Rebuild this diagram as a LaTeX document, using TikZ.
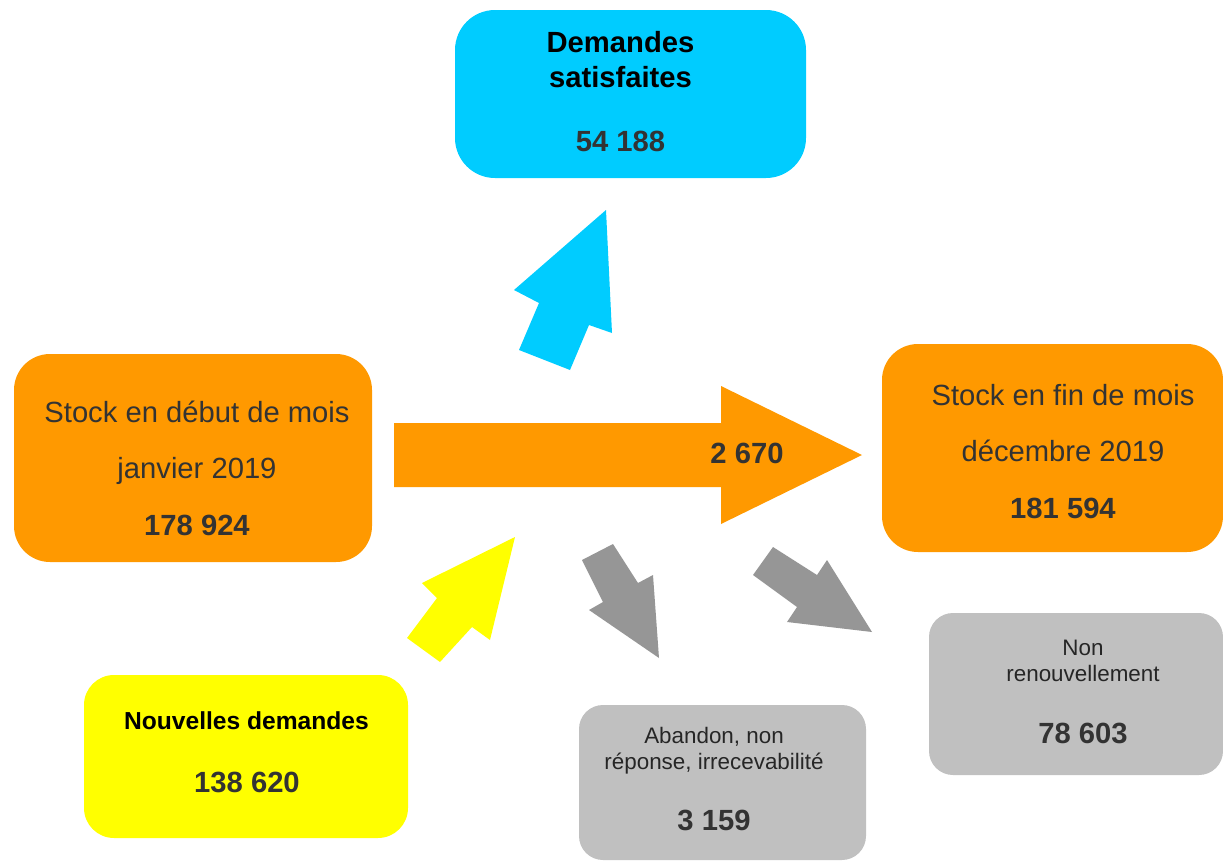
\documentclass[tikz,border=0pt]{standalone}
\usepackage{fontspec}
\setmainfont{Liberation Sans}

\definecolor{orangestock}{HTML}{FF9900}
\definecolor{bleusatis}{HTML}{00CCFF}
\definecolor{jaunenouv}{HTML}{FFFF00}
\definecolor{grisboite}{HTML}{C0C0C0}
\definecolor{grisfleche}{HTML}{969696}
\definecolor{gristexte}{HTML}{333333}

\newcommand{\grand}{\fontsize{14.6}{17}\selectfont}
\newcommand{\petit}{\fontsize{11.2}{13}\selectfont}

\tikzset{
  boite/.style={inner sep=0pt, draw=none},
  ligne/.style={anchor=base, inner sep=0pt, text=gristexte, font=\grand},
  lignepetite/.style={anchor=base, inner sep=0pt, text=black!85, font=\petit},
  chiffre/.style={anchor=base, inner sep=0pt, text=gristexte, font=\grand\bfseries},
}

\begin{document}
\begin{tikzpicture}[x=0.5pt, y=-0.5pt]
  \useasboundingbox (0,0) rectangle (1223,863);

  % boîtes
  \node[boite, fill=bleusatis, rounded corners=20pt, minimum width=175.5pt, minimum height=84pt] (satis) at (630.5,94) {};
  \node[boite, fill=orangestock, rounded corners=18pt, minimum width=179pt, minimum height=104pt] (debut) at (193,458) {};
  \node[boite, fill=orangestock, rounded corners=18pt, minimum width=170.5pt, minimum height=104pt] (fin) at (1052.5,448) {};
  \node[boite, fill=jaunenouv, rounded corners=15pt, minimum width=162pt, minimum height=81.5pt] (nouv) at (246,756.5) {};
  \node[boite, fill=grisboite, rounded corners=12pt, minimum width=143.5pt, minimum height=77.5pt] (aband) at (722.5,782.5) {};
  \node[boite, fill=grisboite, rounded corners=12pt, minimum width=147pt, minimum height=81pt] (nonren) at (1076,694) {};

  % flèches
  \fill[orangestock] (394,423) -- (721,423) -- (721,386) -- (862,455) -- (721,524) -- (721,487) -- (394,487) -- cycle;
  \fill[bleusatis] (606,210) -- (612,333) -- (589,325) -- (570,370) -- (519,350) -- (539,303) -- (514,290) -- cycle;
  \fill[jaunenouv] (515,537) -- (490,640) -- (472,627) -- (440,662) -- (407,638) -- (437,598) -- (422,583) -- cycle;
  \fill[grisfleche] (582,560) -- (613,544) -- (638,583) -- (653,575) -- (659,658) -- (589,610) -- (603,602) -- cycle;
  \fill[grisfleche] (753,575) -- (773,547) -- (817,575) -- (827,560) -- (872,632) -- (787,622) -- (797,607) -- cycle;

  % textes
  \node[ligne, text=black, font=\grand\bfseries] (satis-l1) at (620.5,52) {Demandes};
  \node[ligne, text=black, font=\grand\bfseries] (satis-l2) at (620.5,87) {satisfaites};
  \node[chiffre] (satis-n) at (620.5,151) {54 188};

  \node[ligne] (debut-l1) at (197,422) {Stock en début de mois};
  \node[ligne] (debut-l2) at (197,478) {janvier 2019};
  \node[chiffre] (debut-n) at (197,535) {178 924};

  \node[ligne] (fin-l1) at (1063,405) {Stock en fin de mois};
  \node[ligne] (fin-l2) at (1063,461) {décembre 2019};
  \node[chiffre] (fin-n) at (1063,518) {181 594};

  \node[chiffre] (solde) at (747,463) {2 670};

  \node[ligne, text=black, font=\fontsize{12.3}{14}\selectfont\bfseries] (nouv-l1) at (246.5,729) {Nouvelles demandes};
  \node[chiffre] (nouv-n) at (247,792) {138 620};

  \node[lignepetite] (aband-l1) at (714,743) {Abandon, non};
  \node[lignepetite] (aband-l2) at (714,769) {réponse, irrecevabilité};
  \node[chiffre] (aband-n) at (714,830) {3 159};

  \node[lignepetite] (nonren-l1) at (1083,655) {Non};
  \node[lignepetite] (nonren-l2) at (1083,681) {renouvellement};
  \node[chiffre] (nonren-n) at (1083,743) {78 603};
\end{tikzpicture}
\end{document}
